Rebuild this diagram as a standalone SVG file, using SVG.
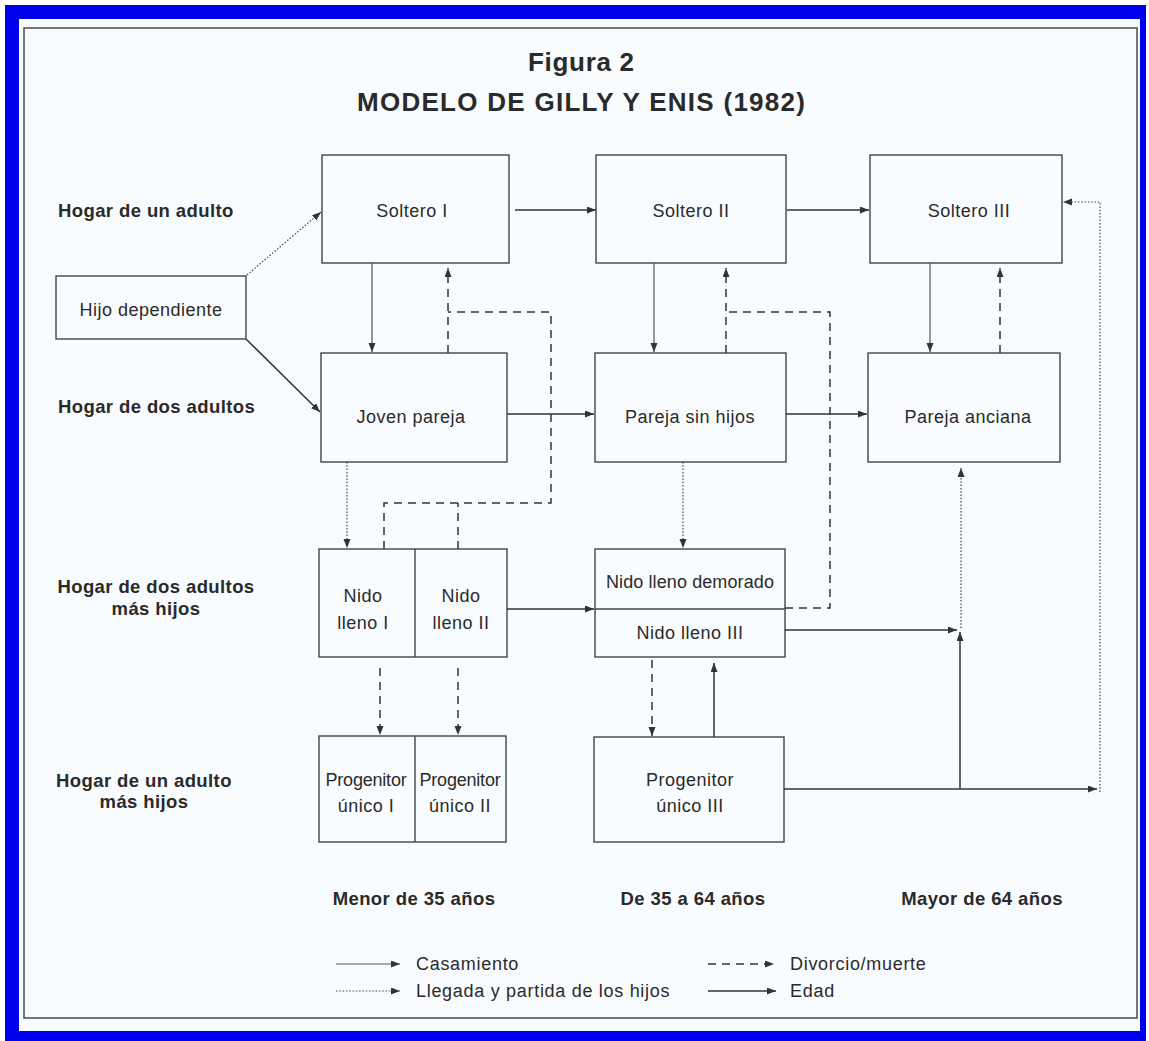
<svg xmlns="http://www.w3.org/2000/svg" width="1149" height="1041" viewBox="0 0 1149 1041">
<style>
text{font-family:"Liberation Sans",Arial,sans-serif;fill:#2a2a2a}
.n{font-size:18px;letter-spacing:0.5px;text-anchor:middle}
.nt{font-size:18px;letter-spacing:-0.2px;text-anchor:middle}
.nd{font-size:18px;letter-spacing:0.1px;text-anchor:middle}
.lab{font-size:18.5px;font-weight:bold;letter-spacing:0.4px}
.labm{font-size:18.5px;font-weight:bold;letter-spacing:0.4px;text-anchor:middle}
.leg{font-size:18px;letter-spacing:0.7px}
.box{fill:none;stroke:#444;stroke-width:1.4}
.ed{fill:none;stroke:#333;stroke-width:1.5;marker-end:url(#ah)}
.ca{fill:none;stroke:#555;stroke-width:1.2;marker-end:url(#ah)}
.da{fill:none;stroke:#333;stroke-width:1.5;stroke-dasharray:8 6}
.dam{fill:none;stroke:#333;stroke-width:1.5;stroke-dasharray:8 6;marker-end:url(#ah)}
.dt{fill:none;stroke:#444;stroke-width:1.2;stroke-dasharray:1.5 1.8;marker-end:url(#ah)}
</style>
<defs>
<marker id="ah" markerUnits="userSpaceOnUse" markerWidth="10" markerHeight="8" refX="9" refY="3.5" orient="auto">
<path d="M0,0 L9,3.5 L0,7 z" fill="#333"/>
</marker>
</defs>
<rect x="0" y="0" width="1149" height="1041" fill="#ffffff"/>
<rect x="5" y="5" width="1141" height="1036" fill="#0000f0"/>
<rect x="19" y="19" width="1121" height="1012" fill="#f9fcfe"/>
<rect x="24" y="28" width="1113" height="990" fill="none" stroke="#555" stroke-width="1.6"/>

<g id="title">
<text x="581" y="71" font-size="26" font-weight="bold" text-anchor="middle" textLength="106" lengthAdjust="spacing">Figura 2</text>
<text x="581" y="111" font-size="26" font-weight="bold" text-anchor="middle" textLength="448" lengthAdjust="spacing">MODELO DE GILLY Y ENIS (1982)</text>
</g>

<g id="row-labels">
<text class="lab" x="58" y="217">Hogar de un adulto</text>
<text class="lab" x="58" y="413">Hogar de dos adultos</text>
<text class="labm" x="156" y="593">Hogar de dos adultos</text>
<text class="labm" x="156" y="615">más hijos</text>
<text class="labm" x="144" y="787">Hogar de un adulto</text>
<text class="labm" x="144" y="808">más hijos</text>
</g>

<g id="col-labels">
<text class="labm" x="414" y="905">Menor de 35 años</text>
<text class="labm" x="693" y="905">De 35 a 64 años</text>
<text class="labm" x="982" y="905">Mayor de 64 años</text>
</g>

<g id="n-hijo"><rect class="box" x="56" y="276" width="190" height="63"/><text class="n" x="151" y="316">Hijo dependiente</text></g>
<g id="n-soltero1"><rect class="box" x="322" y="155" width="187" height="108"/><text class="n" x="412" y="217">Soltero I</text></g>
<g id="n-soltero2"><rect class="box" x="596" y="155" width="190" height="108"/><text class="n" x="691" y="217">Soltero II</text></g>
<g id="n-soltero3"><rect class="box" x="870" y="155" width="192" height="108"/><text class="n" x="969" y="217">Soltero III</text></g>
<g id="n-joven"><rect class="box" x="321" y="353" width="186" height="109"/><text class="n" x="411" y="423">Joven pareja</text></g>
<g id="n-sinhijos"><rect class="box" x="595" y="353" width="191" height="109"/><text class="n" x="690" y="423">Pareja sin hijos</text></g>
<g id="n-anciana"><rect class="box" x="868" y="353" width="192" height="109"/><text class="n" x="968" y="423">Pareja anciana</text></g>
<g id="n-nido12"><rect class="box" x="319" y="549" width="188" height="108"/><line class="box" x1="415" y1="549" x2="415" y2="657"/>
<text class="n" x="363" y="602">Nido</text><text class="n" x="363" y="629">lleno I</text>
<text class="n" x="461" y="602">Nido</text><text class="n" x="461" y="629">lleno II</text></g>
<g id="n-nido3"><rect class="box" x="595" y="549" width="190" height="108"/><line class="box" x1="595" y1="609" x2="785" y2="609"/>
<text class="nd" x="690" y="588">Nido lleno demorado</text><text class="n" x="690" y="639">Nido lleno III</text></g>
<g id="n-prog12"><rect class="box" x="319" y="736" width="187" height="106"/><line class="box" x1="415" y1="736" x2="415" y2="842"/>
<text class="nt" x="366" y="786">Progenitor</text><text class="n" x="366" y="812">único I</text>
<text class="nt" x="460" y="786">Progenitor</text><text class="n" x="460" y="812">único II</text></g>
<g id="n-prog3"><rect class="box" x="594" y="737" width="190" height="105"/>
<text class="n" x="690" y="786">Progenitor</text><text class="n" x="690" y="812">único III</text></g>

<g id="connectors">
<path class="dt" d="M247,275 L321,212"/>
<path class="ed" d="M246,339 L320,412"/>
<path class="ed" d="M515,210 L596,210"/>
<path class="ed" d="M787,210 L869,210"/>
<path class="ca" d="M372,263 L372,352"/>
<path class="ca" d="M654,263 L654,352"/>
<path class="ca" d="M930,263 L930,352"/>
<path class="dam" d="M448,353 L448,268"/>
<path class="dam" d="M726,353 L726,268"/>
<path class="dam" d="M1000,353 L1000,268"/>
<path class="da" d="M384,549 L384,503 L551,503 L551,312 L448,312"/>
<path class="da" d="M458,549 L458,503"/>
<path class="da" d="M785,608 L830,608 L830,312 L726,312"/>
<path class="dt" d="M347,462 L347,548"/>
<path class="dt" d="M683,462 L683,548"/>
<path class="ed" d="M507,414 L594,414"/>
<path class="ed" d="M786,414 L867,414"/>
<path class="ed" d="M507,609 L594,609"/>
<path class="dam" d="M380,668 L380,735"/>
<path class="dam" d="M458,668 L458,735"/>
<path class="dam" d="M652,660 L652,736"/>
<path class="ed" d="M714,737 L714,663"/>
<path class="ed" d="M785,630 L957,630"/>
<path class="ed" d="M784,789 L1097,789"/>
<path class="ed" d="M960,789 L960,632"/>
<path class="dt" d="M961,628 L961,468"/>
<path class="dt" d="M1100,792 L1100,202 L1063,202"/>
</g>

<g id="legend">
<path class="ca" d="M336,964 L400,964"/>
<text class="leg" x="416" y="970">Casamiento</text>
<path class="dt" d="M336,991 L400,991"/>
<text class="leg" x="416" y="997">Llegada y partida de los hijos</text>
<path class="dam" d="M708,964 L774,964"/>
<text class="leg" x="790" y="970">Divorcio/muerte</text>
<path class="ed" d="M708,991 L776,991"/>
<text class="leg" x="790" y="997">Edad</text>
</g>
</svg>
